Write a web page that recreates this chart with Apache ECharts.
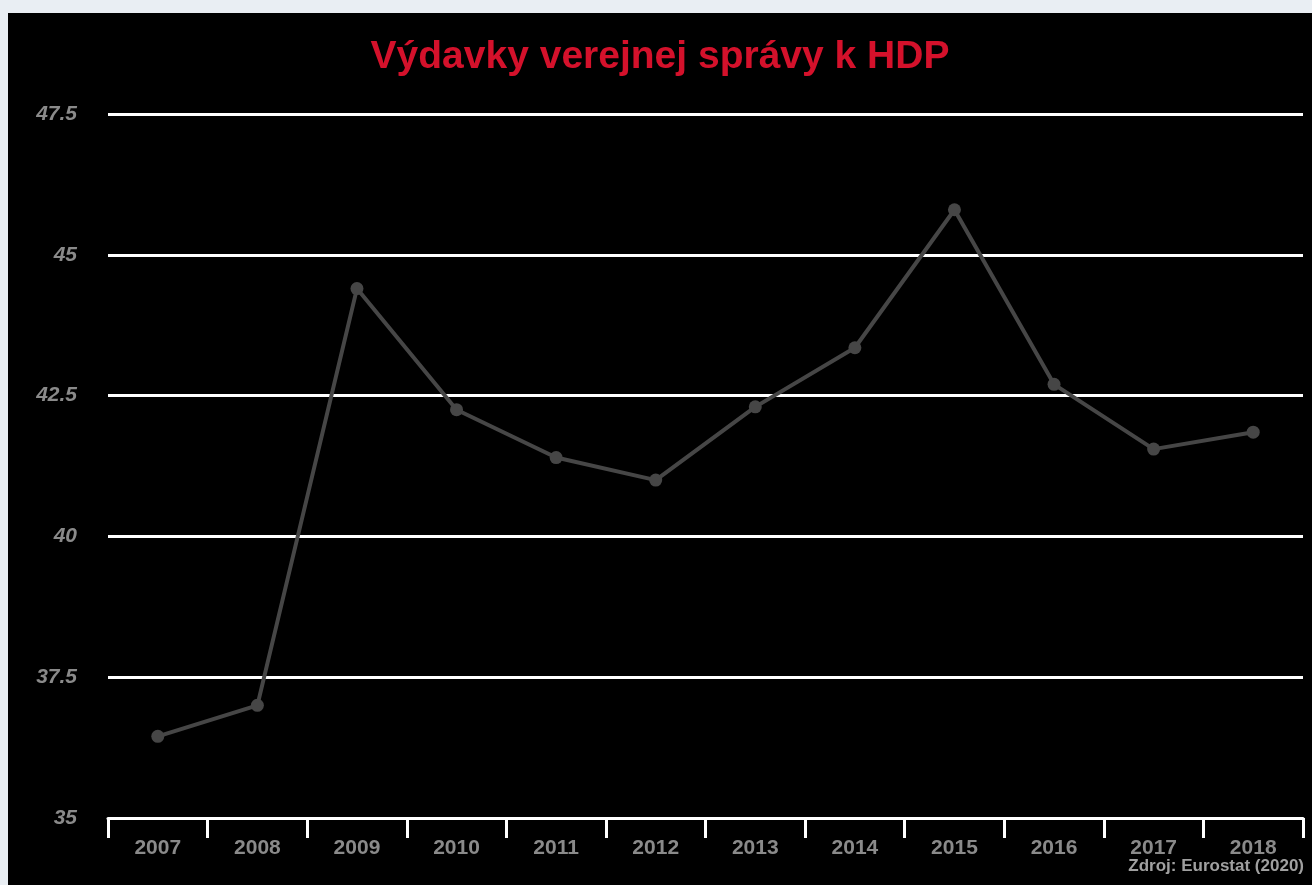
<!DOCTYPE html>
<html>
<head>
<meta charset="utf-8">
<script src="https://cdn.jsdelivr.net/npm/echarts@6/dist/echarts.min.js"></script>
<style>
  html, body { margin: 0; padding: 0; background: #e9eef3; }
  #chart { position: absolute; left: 8px; top: 13px; width: 1304px; height: 872px; }
</style>
</head>
<body>
<div id="chart"></div>
<script>
  // roky a výdavky verejnej správy v % HDP
  var years = ['2007', '2008', '2009', '2010', '2011', '2012', '2013', '2014', '2015', '2016', '2017', '2018'];
  var spending = [36.45, 37.0, 44.4, 42.25, 41.4, 41.0, 42.3, 43.35, 45.8, 42.7, 41.55, 41.85];
  var yTicks = [35, 37.5, 40, 42.5, 45, 47.5];

  var chart = echarts.init(document.getElementById('chart'));
  chart.setOption({
    backgroundColor: '#000',
    animation: false,
    title: {
      text: 'Výdavky verejnej správy k HDP',
      left: 'center',
      top: 20,
      textStyle: { color: '#d4112b', fontSize: 39, fontWeight: 'bold', fontFamily: 'Liberation Sans' }
    },
    grid: { left: 100, right: 9, top: 101, bottom: 67 },
    xAxis: {
      type: 'category',
      data: years,
      boundaryGap: true,
      axisLine: { lineStyle: { color: '#fff', width: 3 } },
      axisTick: { show: true, length: 20, lineStyle: { color: '#fff', width: 3 } },
      axisLabel: { color: '#8a8a8a', fontSize: 21, fontWeight: 'bold', margin: 20, fontFamily: 'Liberation Sans' }
    },
    yAxis: {
      type: 'value',
      min: yTicks[0],
      max: yTicks[yTicks.length - 1],
      interval: 2.5,
      axisLine: { show: false },
      axisTick: { show: false },
      axisLabel: {
        color: '#8a8a8a', fontSize: 21, fontWeight: 'bold', fontStyle: 'italic', margin: 31,
        fontFamily: 'Liberation Sans'
      },
      splitLine: { lineStyle: { color: '#fff', width: 3 } }
    },
    series: [{
      type: 'line',
      data: spending,
      symbol: 'circle',
      symbolSize: 13,
      lineStyle: { color: '#464646', width: 4 },
      itemStyle: { color: '#464646' }
    }],
    graphic: [{
      type: 'text',
      right: 8,
      bottom: 10,
      style: {
        text: 'Zdroj: Eurostat (2020)',
        fill: '#a0a0a0',
        font: 'bold 17px "Liberation Sans"'
      }
    }]
  });
</script>
</body>
</html>
